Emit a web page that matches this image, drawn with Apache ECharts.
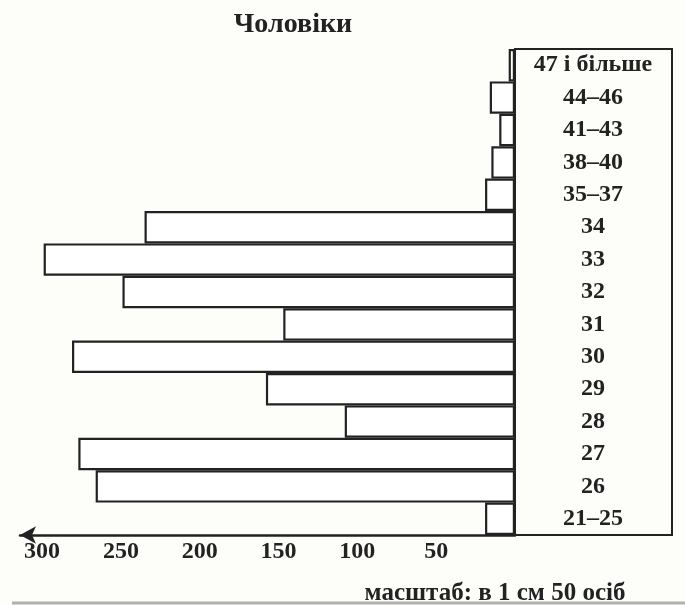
<!DOCTYPE html>
<html>
<head>
<meta charset="utf-8">
<script src="https://cdn.jsdelivr.net/npm/echarts@6/dist/echarts.min.js"></script>
<style>
  html, body { margin: 0; padding: 0; background: #fdfdf9; }
  #chart { width: 685px; height: 605px; }
</style>
</head>
<body>
<div id="chart"></div>
<script>
const categories = ['21–25', '26', '27', '28', '29', '30', '31', '32', '33', '34', '35–37', '38–40', '41–43', '44–46', '47 і більше'];
const menCounts = [19, 266, 277, 108, 158, 281, 147, 249, 299, 235, 19, 15, 10, 16, 4];
const tickStep = 50;
const axisMax = 314;
const titleText = 'Чоловіки';
const scaleNote = 'масштаб: в 1 см 50 осіб';

const FONT = "'Liberation Serif', 'Times New Roman', serif";
const INK = '#222';

const chart = echarts.init(document.getElementById('chart'));
chart.setOption({
  backgroundColor: '#fdfdf9',
  animation: false,
  grid: { left: 20, right: 170, top: 49, bottom: 70, outerBoundsMode: 'none', containLabel: false },
  xAxis: {
    type: 'value',
    inverse: true,
    min: 0,
    max: axisMax,
    interval: tickStep,
    splitLine: { show: false },
    axisTick: { show: false },
    axisLine: {
      show: true,
      symbol: ['arrow', 'none'],
      symbolSize: [13, 16],
      lineStyle: { color: INK, width: 2.5 }
    },
    axisLabel: {
      showMinLabel: false,
      showMaxLabel: false,
      margin: 5,
      color: INK,
      fontFamily: FONT,
      fontWeight: 'bold',
      fontSize: 24
    }
  },
  yAxis: {
    type: 'category',
    position: 'right',
    data: categories,
    axisTick: { show: false },
    splitLine: { show: false },
    axisLine: { show: true, lineStyle: { color: INK, width: 2 } },
    axisLabel: {
      align: 'center',
      margin: 78,
      color: INK,
      fontFamily: FONT,
      fontWeight: 'bold',
      fontSize: 24
    }
  },
  series: [{
    type: 'bar',
    data: menCounts,
    barCategoryGap: '0%',
    itemStyle: { color: '#ffffff', borderColor: INK, borderWidth: 2.2 }
  }],
  graphic: [
    {
      type: 'rect',
      shape: { x: 515, y: 49, width: 157, height: 486 },
      style: { fill: 'none', stroke: INK, lineWidth: 2 },
      z: 10
    },
    {
      type: 'text',
      x: 293, y: 25,
      style: {
        text: titleText,
        fill: INK,
        font: "bold 28px 'Liberation Serif', 'Times New Roman', serif",
        textAlign: 'center',
        textVerticalAlign: 'middle'
      }
    },
    {
      type: 'text',
      x: 495, y: 594,
      style: {
        text: scaleNote,
        fill: INK,
        font: "bold 25px 'Liberation Serif', 'Times New Roman', serif",
        textAlign: 'center',
        textVerticalAlign: 'middle'
      }
    },
    {
      type: 'line',
      shape: { x1: 12, y1: 603, x2: 685, y2: 603 },
      style: { stroke: '#b0b0ac', lineWidth: 3 },
      z: 20
    }
  ]
});
</script>
</body>
</html>
